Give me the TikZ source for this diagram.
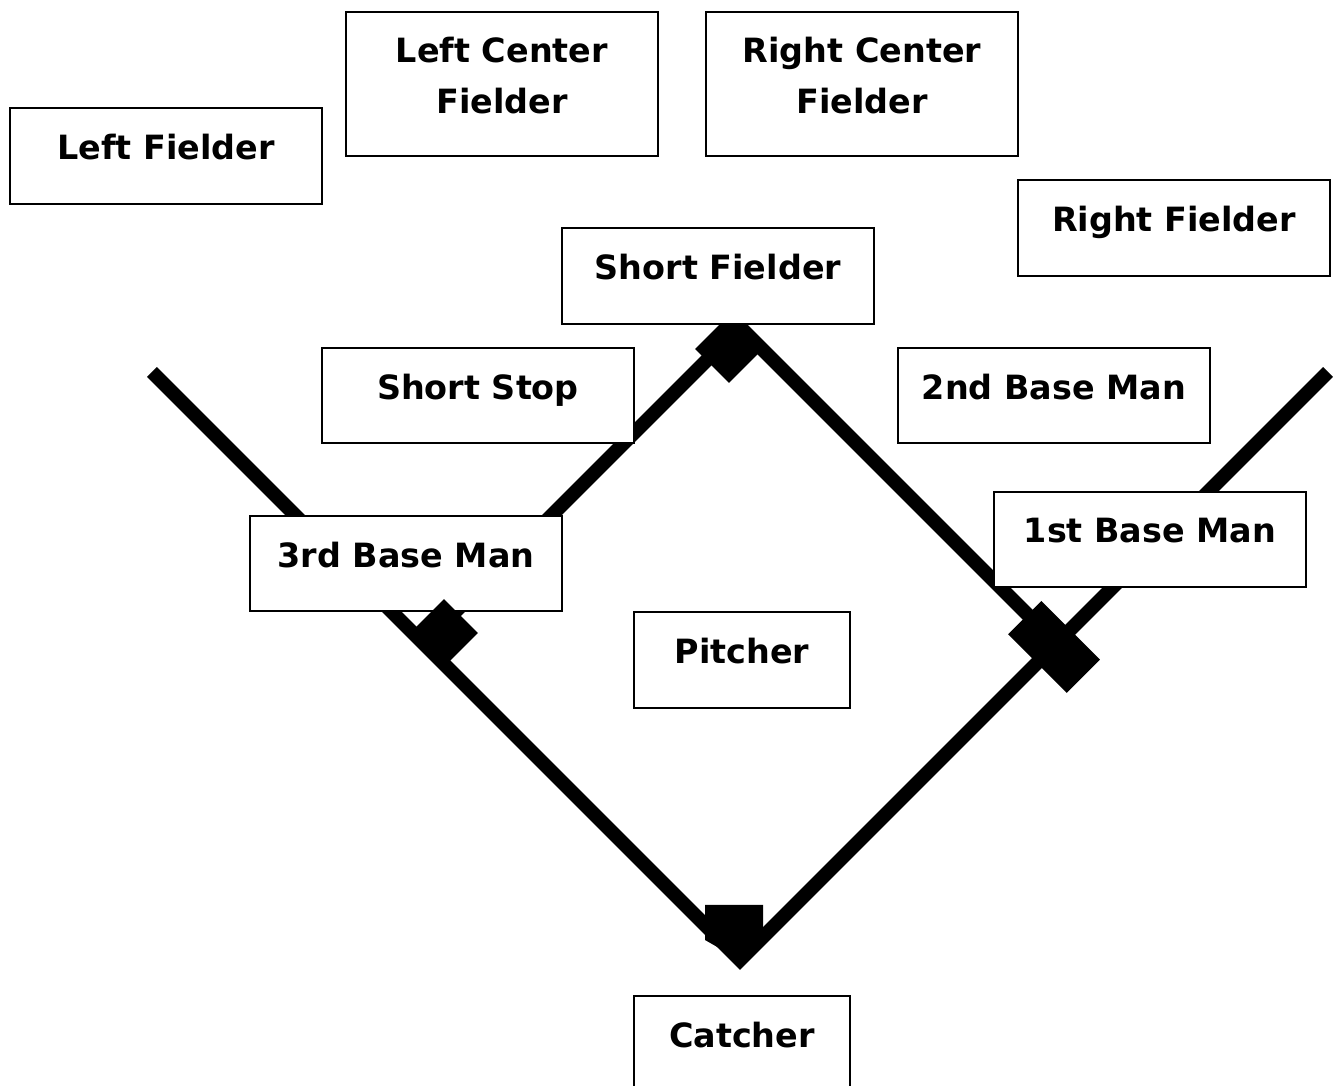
\documentclass[tikz,border=0pt]{standalone}
\usepackage{fontspec}
\setmainfont{DejaVu Sans}
\usepackage{tikz}
\usetikzlibrary{positioning}

\begin{document}
\begin{tikzpicture}[x=0.01cm,y=-0.01cm,
  player/.style={draw, fill=white, line width=0.6pt, minimum width=3.12cm, minimum height=0.96cm, align=center, text depth=0.18cm, font=\fontsize{9.5}{14.5}\selectfont\bfseries},
  bag/.style={fill=black, rotate=45, minimum size=0.48cm, inner sep=0pt},
  chalk/.style={line width=0.14cm}]
\useasboundingbox (0,0) rectangle (1335,1086);
\clip (0,0) rectangle (1335,1086);
\coordinate (HOME) at (740,960);
\coordinate (FIRST) at (1056.5,643.5);
\coordinate (SECOND) at (740,327);
\coordinate (THIRD) at (423.5,643.5);
\coordinate (LFL) at (152,372);
\coordinate (RFL) at (1328,372);
\draw[chalk] (LFL) -- (HOME) -- (RFL);
\draw[chalk] (THIRD) -- (SECOND) -- (FIRST);
\node[bag] (2B) at (729,349) {};
\fill (705,905) -- (763,905) -- (763,940) -- (HOME) -- (705,940) -- cycle;
\node[player] (LF) at (166,156) {Left Fielder};
\node[player, minimum height=1.44cm] (LCF) at (502,84) {Left Center\\Fielder};
\node[player, minimum height=1.44cm] (RCF) at (862,84) {Right Center\\Fielder};
\node[player] (RF) at (1174,228) {Right Fielder};
\node[player] (SF) at (718,276) {Short Fielder};
\node[player, minimum height=0.95cm] (SS) at (478,395.5) {Short Stop};
\node[player, minimum height=0.95cm] (SBM) at (1054,395.5) {2nd Base Man};
\node[player, minimum height=0.95cm] (TBM) at (406,563.5) {3rd Base Man};
\node[player, minimum height=0.95cm] (FBM) at (1150,539.5) {1st Base Man};
\node[player, minimum width=2.16cm] (P) at (742,660) {Pitcher};
\node[player, minimum width=2.16cm] (C) at (742,1044) {Catcher};
\node[bag] (3B) at (444,633) {};
\node[bag, rotate=-90, minimum width=0.83cm, minimum height=0.47cm] (1B) at (1054,647) {};
\end{tikzpicture}
\end{document}
